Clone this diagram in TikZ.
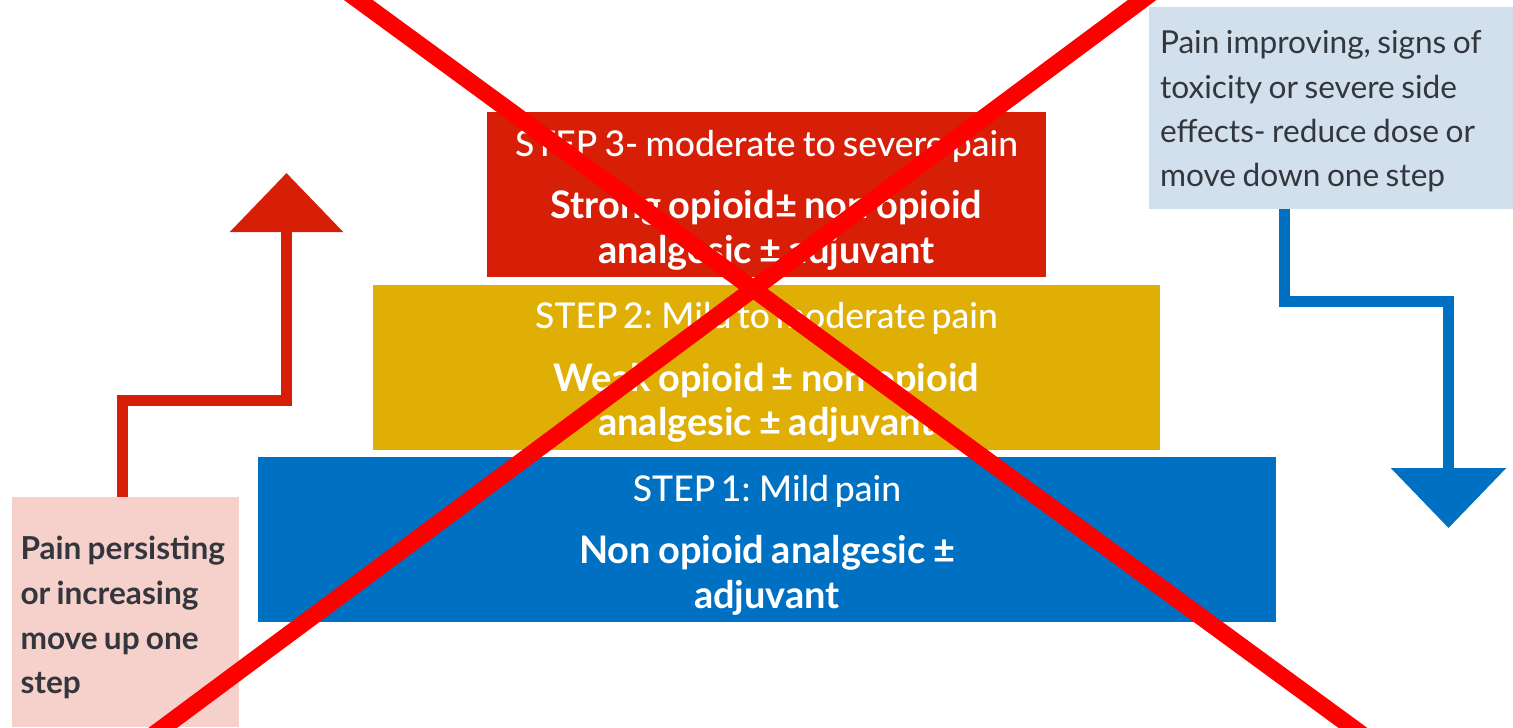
\documentclass[tikz,border=0pt]{standalone}
\usepackage{fontspec}
\setmainfont{Lato}[WordSpace=0.8]
\newfontface\latomedium{Lato Medium}[WordSpace=0.8]
\usetikzlibrary{arrows.meta, positioning}

\definecolor{stepred}{HTML}{D71F08}
\definecolor{stepyellow}{HTML}{E0AF05}
\definecolor{stepblue}{HTML}{0070C2}
\definecolor{notepink}{HTML}{F6D0CB}
\definecolor{noteblue}{HTML}{D2DFEC}
\definecolor{textgray}{HTML}{33373D}
\definecolor{crossred}{HTML}{FF0000}

\newcommand{\steptitle}[1]{{\fontsize{20.2}{25.5}\latomedium
    \rule{0pt}{0.75cm}#1}}
\newcommand{\notestart}[1]{\spaceskip=0pt\xspaceskip=0pt\rule{0pt}{#1}}

\begin{document}
\begin{tikzpicture}[
    stepbox/.style={rectangle, fill=#1, text=white, align=center,
                    inner sep=0pt, minimum height=3.3cm,
                    font=\fontsize{21.6}{25.5}\selectfont\bfseries},
    notebox/.style={rectangle, fill=#1, text=textgray, align=left,
                    inner xsep=0.2cm, inner ysep=0pt,
                    font=\fontsize{18}{25.2}\selectfont}
]
    \useasboundingbox (0,0) rectangle (30.26,-14.54);

    % --- Steps ---
    \node[stepbox=stepred, minimum width=11.18cm] (stepthree) at (15.33,-3.89)
        {\steptitle{STEP 3- moderate to severe pain}\\[10pt]
         Strong opioid± non opioid\\
         analgesic ± adjuvant};
    \node[stepbox=stepyellow, minimum width=15.74cm] (steptwo) at (15.33,-7.34)
        {\steptitle{STEP 2: Mild to moderate pain}\\[10pt]
         Weak opioid ± non opioid\\
         analgesic ± adjuvant};
    \node[stepbox=stepblue, minimum width=20.36cm] (stepone) at (15.34,-10.79)
        {\steptitle{STEP 1: Mild pain}\\[10pt]
         Non opioid analgesic ±\\
         adjuvant};

    % --- Notes ---
    \node[notebox=notepink, text width=4.2cm, inner xsep=0.17cm,
          minimum height=4.6cm,
          font=\fontsize{18}{25.4}\selectfont\bfseries] (upnote) at (2.51,-12.24)
        {\notestart{0.7cm}Pain persisting\\or increasing\\move up one\\step};
    \node[notebox=noteblue, text width=6.84cm, inner xsep=0.22cm,
          minimum height=4.04cm] (downnote) at (26.62,-2.16)
        {\notestart{0.6cm}Pain improving, signs of\\toxicity or severe side\\effects- reduce dose or\\move down one step};

    % --- Arrows ---
    \coordinate (uptip) at (5.73,-3.46);
    \coordinate (downtip) at (28.97,-10.56);
    \draw[stepred, line width=0.22cm, -{Triangle[length=1.18cm, width=2.22cm]}]
        ([xshift=-0.07cm]upnote.north) -- ++(0,1.92) -| (uptip);
    \draw[stepblue, line width=0.22cm, -{Triangle[length=1.2cm, width=2.26cm]}]
        ([xshift=-0.94cm]downnote.south) -- ++(0,-1.84) -| (downtip);

    % --- Cross ---
    \coordinate (crossa) at (6.62,0.40);
    \coordinate (crossb) at (27.58,-14.94);
    \coordinate (crossc) at (23.38,0.40);
    \coordinate (crossd) at (2.74,-14.94);
    \draw[crossred, line width=0.34cm] (crossa) -- (crossb);
    \draw[crossred, line width=0.34cm] (crossc) -- (crossd);
\end{tikzpicture}
\end{document}
